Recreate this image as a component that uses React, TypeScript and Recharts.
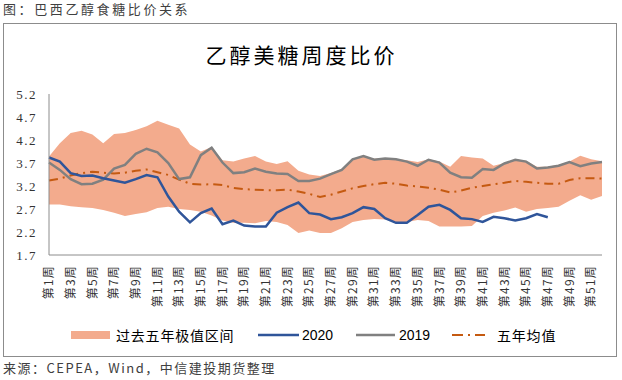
import { ComposedChart, Area, Line, XAxis, YAxis, Legend } from 'recharts';

const weeks = Array.from({ length: 52 }, (_, i) => `第${i + 1}周`);

// 过去五年极值区间
const bandLow = [
  2.80, 2.80, 2.76, 2.74, 2.72, 2.68, 2.62, 2.55, 2.59, 2.63, 2.72, 2.75, 2.70,
  2.68, 2.64, 2.56, 2.45, 2.40, 2.40, 2.39, 2.44, 2.42, 2.35, 2.18, 2.23, 2.18,
  2.18, 2.28, 2.42, 2.46, 2.48, 2.47, 2.42, 2.42, 2.46, 2.44, 2.32, 2.32, 2.32,
  2.33, 2.55, 2.62, 2.67, 2.73, 2.64, 2.70, 2.72, 2.75, 2.88, 3.00, 2.90, 2.98,
];
const bandHigh = [
  3.84, 4.13, 4.35, 4.40, 4.32, 4.13, 4.33, 4.35, 4.42, 4.50, 4.62, 4.53, 4.45,
  4.10, 3.95, 4.05, 3.76, 3.73, 3.80, 3.85, 3.73, 3.68, 3.74, 3.53, 3.45, 3.42,
  3.48, 3.57, 3.79, 3.86, 3.79, 3.81, 3.79, 3.76, 3.72, 3.78, 3.73, 3.62, 3.85,
  3.82, 3.80, 3.64, 3.70, 3.78, 3.75, 3.62, 3.62, 3.66, 3.73, 3.86, 3.78, 3.74,
];

const s2020 = [
  3.82, 3.73, 3.48, 3.42, 3.43, 3.37, 3.32, 3.27, 3.35, 3.44, 3.39, 2.97, 2.64,
  2.41, 2.61, 2.71, 2.37, 2.45, 2.34, 2.32, 2.32, 2.62, 2.74, 2.84, 2.61, 2.58,
  2.48, 2.52, 2.61, 2.74, 2.70, 2.50, 2.40, 2.40, 2.57, 2.75, 2.79, 2.68, 2.50,
  2.48, 2.42, 2.53, 2.50, 2.45, 2.50, 2.59, 2.52,
];

const s2019 = [
  3.71, 3.55, 3.35, 3.24, 3.25, 3.34, 3.58, 3.66, 3.90, 4.01, 3.93, 3.70, 3.35,
  3.39, 3.87, 4.03, 3.71, 3.48, 3.50, 3.58, 3.51, 3.47, 3.46, 3.31, 3.31, 3.36,
  3.46, 3.55, 3.78, 3.85, 3.77, 3.80, 3.78, 3.73, 3.64, 3.77, 3.71, 3.49, 3.39,
  3.38, 3.57, 3.55, 3.69, 3.77, 3.73, 3.58, 3.60, 3.64, 3.72, 3.63, 3.69, 3.72,
];

// 五年均值
const avg5 = [
  3.32, 3.36, 3.43, 3.48, 3.51, 3.49, 3.47, 3.49, 3.53, 3.56, 3.50, 3.44, 3.34,
  3.25, 3.23, 3.24, 3.22, 3.16, 3.13, 3.12, 3.11, 3.11, 3.12, 3.08, 3.03, 2.96,
  3.01, 3.08, 3.15, 3.20, 3.24, 3.27, 3.25, 3.21, 3.19, 3.16, 3.12, 3.06, 3.10,
  3.16, 3.20, 3.24, 3.27, 3.31, 3.29, 3.27, 3.25, 3.25, 3.33, 3.37, 3.37, 3.36,
];

const yTicks = [1.7, 2.2, 2.7, 3.2, 3.7, 4.2, 4.7, 5.2];

const data = weeks.map((w, i) => ({
  week: w,
  range: [bandLow[i], bandHigh[i]],
  y2020: i < s2020.length ? s2020[i] : null,
  y2019: s2019[i],
  avg: avg5[i],
}));

const BAND = '#F3AB8D';
const BLUE = '#2F559A';
const GRAY = '#808080';
const AVG = '#C55A11';
const CJK = '"Noto Sans CJK SC", sans-serif';

const WeekTick = (props: any) => {
  const { x, y, payload } = props;
  return (
    <text
      transform={`translate(${x},${y + 2}) rotate(-90)`}
      textAnchor="end"
      dy="0.35em"
      fontSize={12}
      letterSpacing={1.2}
      fontFamily={CJK}
      fill="#333"
    >
      {payload.value}
    </text>
  );
};

const LegendBox = () => {
  const txt = { position: 'absolute' as const, top: 0, fontSize: 14, lineHeight: '18px', color: '#000', fontFamily: CJK };
  return (
    <div style={{ position: 'relative', width: 622, height: 18 }}>
      <div style={{ position: 'absolute', left: 71, top: 5, width: 39, height: 8, background: BAND }} />
      <span style={{ ...txt, left: 116, letterSpacing: 0.8 }}>过去五年极值区间</span>
      <svg style={{ position: 'absolute', left: 0, top: 0 }} width={622} height={18}>
        <line x1={258} x2={299} y1={9} y2={9} stroke={BLUE} strokeWidth={2.5} />
        <line x1={356} x2={395} y1={9} y2={9} stroke={GRAY} strokeWidth={2.5} />
        <line x1={452} x2={485} y1={9} y2={9} stroke={AVG} strokeWidth={2} strokeDasharray="11 5 2 5" />
      </svg>
      <span style={{ ...txt, left: 302, fontFamily: '"Liberation Sans", Arial, sans-serif' }}>2020</span>
      <span style={{ ...txt, left: 399, fontFamily: '"Liberation Sans", Arial, sans-serif' }}>2019</span>
      <span style={{ ...txt, left: 497, letterSpacing: 0.8 }}>五年均值</span>
    </div>
  );
};

export default function App() {
  return (
    <div style={{ position: 'absolute', left: 0, top: 0, width: 622, height: 380, background: '#fff', overflow: 'hidden' }}>
      <div style={{ position: 'absolute', left: 3, top: 1, fontSize: 13, lineHeight: '16px', letterSpacing: 2.6, color: '#404040', fontFamily: CJK }}>
        图：巴西乙醇食糖比价关系
      </div>
      <div style={{ position: 'absolute', left: 3, top: 23, width: 612, height: 332, border: '1px solid #8c8c8c' }} />
      <div style={{ position: 'absolute', left: 0, top: 41, width: 603, textAlign: 'center', fontSize: 21, lineHeight: '26px', letterSpacing: 3, color: '#000', fontFamily: CJK }}>
        乙醇美糖周度比价
      </div>
      <div style={{ position: 'absolute', left: 0, top: 0 }}>
        <ComposedChart width={622} height={380} data={data} margin={{ top: 94, right: 20, bottom: 75, left: 0 }}>
          <XAxis
            dataKey="week"
            interval={1}
            tick={<WeekTick />}
            tickLine={false}
            axisLine={{ stroke: '#8c8c8c', strokeWidth: 1 }}
            height={50}
          />
          <YAxis
            domain={[1.7, 5.2]}
            ticks={yTicks}
            width={49}
            tickLine={false}
            tickMargin={6}
            tickFormatter={(v: number) => v.toFixed(1)}
            axisLine={{ stroke: '#8c8c8c', strokeWidth: 1 }}
            tick={{ fontSize: 13, fill: '#333', fontFamily: '"Liberation Serif", serif', letterSpacing: 1.5 }}
          />
          <Legend
            verticalAlign="middle"
            align="center"
            layout="horizontal"
            wrapperStyle={{ position: 'absolute', left: 0, top: 326, width: 622, height: 18 }}
            content={<LegendBox />}
          />
          <Area dataKey="range" stroke="none" fill={BAND} fillOpacity={1} isAnimationActive={false} activeDot={false} />
          <Line dataKey="avg" stroke={AVG} strokeWidth={2} strokeDasharray="9 5 2 5" dot={false} isAnimationActive={false} />
          <Line dataKey="y2019" stroke={GRAY} strokeWidth={2.5} dot={false} isAnimationActive={false} />
          <Line dataKey="y2020" stroke={BLUE} strokeWidth={2.5} dot={false} isAnimationActive={false} connectNulls={false} />
        </ComposedChart>
      </div>
      <div style={{ position: 'absolute', left: 3, top: 360, fontSize: 13, lineHeight: '16px', letterSpacing: 1.5, color: '#404040', fontFamily: CJK }}>
        来源：CEPEA，Wind，中信建投期货整理
      </div>
    </div>
  );
}
